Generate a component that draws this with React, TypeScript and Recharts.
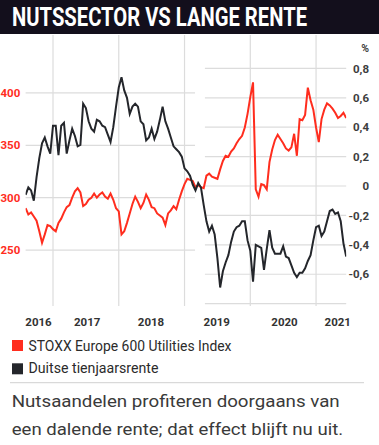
import { ComposedChart, Line, XAxis, YAxis, ReferenceLine } from 'recharts'

document.body.style.margin = '0'

// half-monthly observations
const dates = [
  '2016-08-01', '2016-08-15', '2016-09-01', '2016-09-15', '2016-10-01', '2016-10-15', '2016-11-01', '2016-11-15', '2016-12-01', '2016-12-15',
  '2017-01-01', '2017-01-15', '2017-02-01', '2017-02-15', '2017-03-01', '2017-03-15', '2017-04-01', '2017-04-15', '2017-05-01', '2017-05-15', '2017-06-01', '2017-06-15',
  '2017-07-01', '2017-07-15', '2017-08-01', '2017-08-15', '2017-09-01', '2017-09-15', '2017-10-01', '2017-10-15', '2017-11-01', '2017-11-15', '2017-12-01', '2017-12-15',
  '2018-01-01', '2018-01-15', '2018-02-01', '2018-02-15', '2018-03-01', '2018-03-15', '2018-04-01', '2018-04-15', '2018-05-01', '2018-05-15', '2018-06-01', '2018-06-15',
  '2018-07-01', '2018-07-15', '2018-08-01', '2018-08-15', '2018-09-01', '2018-09-15', '2018-10-01', '2018-10-15', '2018-11-01', '2018-11-15', '2018-12-01', '2018-12-15',
  '2019-01-01', '2019-01-15', '2019-02-01', '2019-02-15', '2019-03-01', '2019-03-15', '2019-04-01', '2019-04-15', '2019-05-01', '2019-05-15', '2019-06-01', '2019-06-15',
  '2019-07-01', '2019-07-15', '2019-08-01', '2019-08-15', '2019-09-01', '2019-09-15', '2019-10-01', '2019-10-15', '2019-11-01', '2019-11-15', '2019-12-01', '2019-12-15',
  '2020-01-01', '2020-01-15', '2020-02-01', '2020-02-15', '2020-03-01', '2020-03-15', '2020-04-01', '2020-04-15', '2020-05-01', '2020-05-15', '2020-06-01', '2020-06-15',
  '2020-07-01', '2020-07-15', '2020-08-01', '2020-08-15', '2020-09-01', '2020-09-15', '2020-10-01', '2020-10-15', '2020-11-01', '2020-11-15', '2020-12-01', '2020-12-15',
  '2021-01-01', '2021-01-15', '2021-02-01', '2021-02-15', '2021-03-01', '2021-03-15', '2021-04-01', '2021-04-15', '2021-05-01', '2021-05-15', '2021-06-01', '2021-06-15'
]

// STOXX Europe 600 Utilities Index (left axis)
const stoxx = [
  290, 284, 286, 282, 278, 268, 257, 265, 274, 273,
  270, 268, 276, 280, 286, 291, 293, 300, 306, 309, 305, 292, 294, 298, 300, 304, 300, 303, 305, 301, 299, 304, 298, 290,
  287, 265, 268, 276, 285, 294, 301, 296, 290, 295, 303, 298, 291, 290, 285, 283, 281, 274, 285, 288, 292, 289, 298, 306,
  313, 318, 317, 316, 310, 312, 310, 309, 321, 323, 320, 319, 318, 327, 335, 340, 339, 344, 347, 352, 356, 359, 367, 380,
  396, 410, 308, 301, 313, 312, 308, 334, 346, 355, 360, 356, 352, 347, 345, 348, 361, 340, 375, 374, 379, 405, 393, 384,
  367, 353, 375, 384, 390, 388, 385, 381, 376, 378, 381, 376
]

// Duitse tienjaarsrente, % (right axis)
const bund = [
  -0.06, -0.01, -0.03, -0.1, 0.06, 0.19, 0.29, 0.33, 0.27, 0.22,
  0.41, 0.41, 0.21, 0.41, 0.43, 0.22, 0.31, 0.39, 0.34, 0.27, 0.28, 0.56, 0.53, 0.44, 0.39, 0.37, 0.45, 0.44, 0.41, 0.4, 0.35, 0.3, 0.4, 0.54,
  0.67, 0.74, 0.65, 0.6, 0.49, 0.54, 0.56, 0.54, 0.44, 0.42, 0.31, 0.33, 0.39, 0.32, 0.37, 0.45, 0.54, 0.44, 0.39, 0.33, 0.27, 0.25, 0.23, 0.2,
  0.12, 0.1, 0.07, 0.01, -0.03, 0.02, -0.01, -0.13, -0.24, -0.31, -0.27, -0.33, -0.49, -0.69, -0.58, -0.52, -0.47, -0.38, -0.31, -0.28, -0.27, -0.24, -0.24, -0.37,
  -0.44, -0.65, -0.4, -0.41, -0.42, -0.57, -0.43, -0.3, -0.42, -0.46, -0.46, -0.46, -0.41, -0.48, -0.49, -0.54, -0.59, -0.62, -0.59, -0.59, -0.56, -0.51, -0.47, -0.37,
  -0.28, -0.27, -0.34, -0.31, -0.24, -0.17, -0.16, -0.19, -0.18, -0.24, -0.39, -0.48
]

const yearTicks = [2016.78, 2017.52, 2018.49, 2019.49, 2020.52, 2021.33]
const yearLines = [2017, 2018, 2019, 2020, 2021]
const indexTicks = [250, 300, 350, 400]
const rateTicks = [-0.6, -0.4, -0.2, 0, 0.2, 0.4, 0.6, 0.8]
const rateGrid = [-0.8, ...rateTicks]

const RED = '#ff2d1e'
const DARK = '#24262b'
const GRID = '#dcdcdc'
const FONT = 'Roboto, sans-serif'

const toYear = (d: string): number => {
  const [y, m, day] = d.split('-').map(Number)
  return y + (m - 1 + (day - 1) / 28) / 12
}

const data = dates.map((d, i) => ({ t: toYear(d), stoxx: stoxx[i], bund: bund[i] }))
const tStart = toYear(dates[0])
const tEnd = toYear(dates[dates.length - 1])
const leftGridEnd = 2019.16
const rightGridStart = 2019.31

const fmtRate = (v: number) => (v === 0 ? '0' : v.toFixed(1).replace('.', ','))

const LeftTick = ({ x, y, payload }: any) => (
  <text x={x - 5.3} y={y + 4.2} textAnchor='end' fill={RED} fontFamily={FONT} fontWeight={700} fontSize={11.5}>
    {payload.value}
  </text>
)

const RightTick = ({ x, y, payload }: any) => (
  <text x={x + 22.8} y={y + 4.2} textAnchor='end' fill='#3d3d3d' fontFamily={FONT} fontWeight={700} fontSize={11.5}>
    {fmtRate(payload.value)}
  </text>
)

const YearTick = ({ x, y, payload }: any) => (
  <text x={x} y={y + 20} textAnchor='middle' fill='#333' fontFamily={FONT} fontWeight={700} fontSize={11.5}>
    {Math.floor(payload.value)}
  </text>
)

const App = () => {
  return (
    <div style={{ position: 'relative', width: 379, height: 445, background: '#fff' }}>
      <svg width={379} height={445} style={{ position: 'absolute', left: 0, top: 0 }}>
        <rect x={0} y={0} width={379} height={34} fill='#130f1c' />
        <text x={12} y={25.5} fill='#fff' fontFamily={FONT} fontWeight={700} fontSize={25} textLength={295} lengthAdjust='spacingAndGlyphs'>
          NUTSSECTOR VS LANGE RENTE
        </text>
        <text x={369} y={51.5} textAnchor='end' fill='#3d3d3d' fontFamily={FONT} fontWeight={700} fontSize={10.5}>
          %
        </text>
        <rect x={12} y={340} width={11} height={11} fill={RED} />
        <text x={28.5} y={350.8} fill='#2b2b2b' fontFamily={FONT} fontSize={15} textLength={203} lengthAdjust='spacingAndGlyphs'>
          STOXX Europe 600 Utilities Index
        </text>
        <rect x={12} y={363.3} width={11} height={11} fill={DARK} />
        <text x={28.5} y={373.4} fill='#2b2b2b' fontFamily={FONT} fontSize={15} textLength={130} lengthAdjust='spacingAndGlyphs'>
          Duitse tienjaarsrente
        </text>
        <line x1={10} x2={364} y1={382.7} y2={382.7} stroke='#d0d0d0' strokeWidth={1} />
        <text x={11.7} y={406.7} fill='#3a3a3a' fontFamily={FONT} fontSize={16.5} textLength={328} lengthAdjust='spacingAndGlyphs'>
          Nutsaandelen profiteren doorgaans van
        </text>
        <text x={11.7} y={435} fill='#3a3a3a' fontFamily={FONT} fontSize={16.5} textLength={331.5} lengthAdjust='spacingAndGlyphs'>
          een dalende rente; dat effect blijft nu uit.
        </text>
      </svg>
      <div style={{ position: 'absolute', left: 0, top: 0 }}>
        <ComposedChart width={379} height={330} data={data} margin={{ top: 35, right: 0, bottom: 4, left: 0 }}>
          <XAxis
            dataKey='t'
            type='number'
            domain={[tStart, tEnd]}
            allowDataOverflow
            ticks={yearTicks}
            interval={0}
            height={20}
            axisLine={false}
            tickLine={false}
            tickSize={0}
            tickMargin={0}
            tick={YearTick}
          />
          <YAxis
            yAxisId='left'
            orientation='left'
            type='number'
            domain={[196.7, 455.2]}
            allowDataOverflow
            ticks={indexTicks}
            interval={0}
            width={25.6}
            axisLine={false}
            tickLine={false}
            tickSize={0}
            tickMargin={0}
            tick={LeftTick}
          />
          <YAxis
            yAxisId='right'
            orientation='right'
            type='number'
            domain={[-0.816, 1.027]}
            allowDataOverflow
            ticks={rateTicks}
            interval={0}
            width={32.8}
            axisLine={false}
            tickLine={false}
            tickSize={0}
            tickMargin={0}
            tick={RightTick}
          />
          {yearLines.map((yr) => (
            <ReferenceLine key={`v-${yr}`} yAxisId='left' x={yr} stroke={GRID} strokeWidth={1.2} />
          ))}
          {indexTicks.map((v) => (
            <ReferenceLine
              key={`l-${v}`}
              yAxisId='left'
              segment={[{ x: tStart, y: v }, { x: leftGridEnd, y: v }]}
              stroke={GRID}
              strokeWidth={1.2}
            />
          ))}
          {rateGrid.map((v) => (
            <ReferenceLine
              key={`r-${v}`}
              yAxisId='right'
              segment={[{ x: rightGridStart, y: v }, { x: tEnd, y: v }]}
              stroke={GRID}
              strokeWidth={1.2}
            />
          ))}
          <Line
            yAxisId='left'
            type='linear'
            dataKey='stoxx'
            stroke={RED}
            strokeWidth={2}
            dot={false}
            isAnimationActive={false}
          />
          <Line
            yAxisId='right'
            type='linear'
            dataKey='bund'
            stroke={DARK}
            strokeWidth={2}
            dot={false}
            isAnimationActive={false}
          />
        </ComposedChart>
      </div>
    </div>
  )
}

export default App
